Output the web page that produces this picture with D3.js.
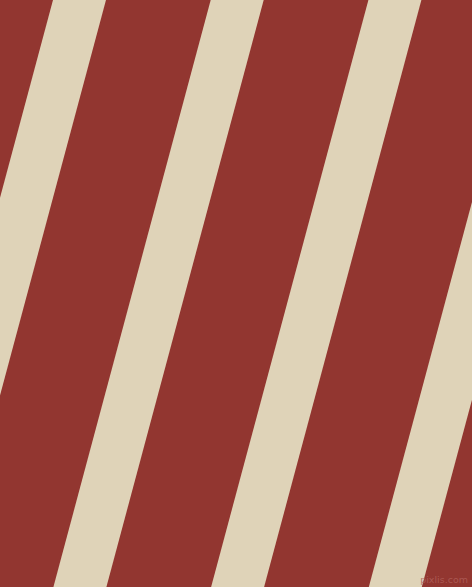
<!DOCTYPE html>
<html>
<head>
<meta charset="utf-8">
<script src="https://cdn.jsdelivr.net/npm/d3@7"></script>
<style>
html,body{margin:0;padding:0;background:#923630;overflow:hidden;}
svg{display:block;}
</style>
</head>
<body>
<script>
// Data: stripe indices (period units), stripe width as fraction of period, tilt angle
const stripes = [-1, 0, 1, 2, 3, 4];
const stripeWidth = [0.336];
const tiltDeg = [15];
const colors = ["#923630", "#DFD3B8"];
const watermark = ["pixlis.com"];

const W = 472, H = 587;
const svg = d3.select("body").append("svg").attr("width", W).attr("height", H);

svg.append("rect").attr("width", W).attr("height", H).attr("fill", colors[0]);

// scale: stripe index -> x at top edge
const x = d3.scaleLinear().domain([0, 1]).range([53, 210.7]);
const y = d3.scaleLinear().domain([0, 1]).range([0, H]);
const shift = Math.tan(tiltDeg[0] * Math.PI / 180) * H;

svg.selectAll("polygon.stripe").data(stripes).join("polygon")
  .attr("class", "stripe")
  .attr("fill", colors[1])
  .attr("points", d => {
    const x0 = x(d), x1 = x(d + stripeWidth[0]);
    return [[x0, y(0)], [x1, y(0)], [x1 - shift, y(1)], [x0 - shift, y(1)]].map(p => p.join(",")).join(" ");
  });

svg.append("text").text(watermark[0])
  .attr("x", 468).attr("y", 583)
  .attr("text-anchor", "end")
  .attr("font-family", "DejaVu Sans, sans-serif")
  .attr("font-size", 9.5)
  .attr("fill", "#b0605a")
  .attr("opacity", 0.8);
</script>
</body>
</html>
